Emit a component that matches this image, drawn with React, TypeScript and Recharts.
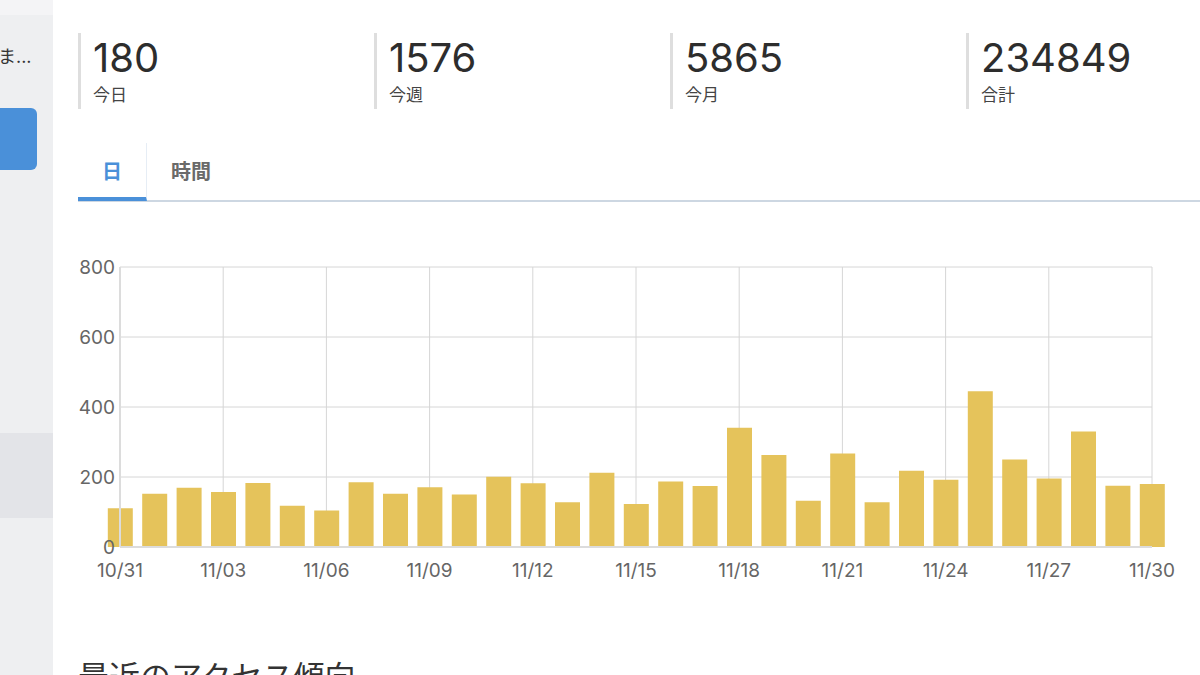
import { BarChart, Bar, XAxis, YAxis, CartesianGrid } from 'recharts';

const days = [
  '10/31', '11/01', '11/02', '11/03', '11/04', '11/05', '11/06', '11/07',
  '11/08', '11/09', '11/10', '11/11', '11/12', '11/13', '11/14', '11/15',
  '11/16', '11/17', '11/18', '11/19', '11/20', '11/21', '11/22', '11/23',
  '11/24', '11/25', '11/26', '11/27', '11/28', '11/29', '11/30',
];

const views = [
  111, 152, 169, 157, 183, 118, 104, 185,
  152, 171, 150, 201, 182, 128, 212, 123,
  187, 174, 341, 263, 132, 267, 128, 218,
  192, 445, 250, 196, 330, 175, 180,
];

const xTicks = [0, 3, 6, 9, 12, 15, 18, 21, 24, 27, 30];
const yTicks = [0, 200, 400, 600, 800];

const statValues = ['180', '1576', '5865', '234849'];
const statLabels = ['今日', '今週', '今月', '合計'];
const tabLabels = ['日', '時間'];

const latin = "Inter, 'Liberation Sans', Arial, sans-serif";
const cjk = "Inter, 'Noto Sans CJK JP', sans-serif";

export default function App() {
  const chartData = days.map((day, i) => ({ idx: i, day, views: views[i] }));

  return (
    <div
      style={{
        position: 'absolute',
        left: 0,
        top: 0,
        width: 1200,
        height: 675,
        overflow: 'hidden',
        background: '#fff',
        fontFamily: cjk,
      }}
    >
      {/* sidebar */}
      <div style={{ position: 'absolute', left: 0, top: 0, width: 53, height: 675, background: '#eeeff1' }} />
      <div style={{ position: 'absolute', left: 0, top: 0, width: 53, height: 15, background: '#f4f4f6' }} />
      <div
        style={{
          position: 'absolute',
          left: -2,
          top: 45,
          fontSize: 18,
          lineHeight: '24px',
          color: '#333',
          whiteSpace: 'nowrap',
        }}
      >
        ま...
      </div>
      <div
        style={{
          position: 'absolute',
          left: -10,
          top: 108,
          width: 47,
          height: 62,
          borderRadius: 6,
          background: '#4a90d9',
        }}
      />
      <div style={{ position: 'absolute', left: 0, top: 433, width: 53, height: 85, background: '#e3e4e8' }} />

      {/* stats */}
      {statValues.map((v, i) => (
        <div
          key={v}
          style={{
            position: 'absolute',
            left: 78 + i * 296,
            top: 33,
            height: 76,
            width: 280,
            borderLeft: '3px solid #dedede',
          }}
        >
          <div
            style={{
              position: 'absolute',
              left: 12,
              top: 5,
              fontSize: 40,
              lineHeight: '40px',
              color: '#2d2d2d',
              fontFamily: latin,
            }}
          >
            {v}
          </div>
          <div
            style={{
              position: 'absolute',
              left: 12,
              top: 54,
              fontSize: 17,
              lineHeight: '17px',
              color: '#444',
            }}
          >
            {statLabels[i]}
          </div>
        </div>
      ))}

      {/* tabs */}
      <div
        style={{
          position: 'absolute',
          left: 78,
          top: 200,
          width: 1122,
          height: 2,
          background: '#cdd7e2',
        }}
      />
      <div style={{ position: 'absolute', left: 78, top: 143, display: 'flex' }}>
        {tabLabels.map((t, i) => (
          <div
            key={t}
            style={{
              height: 54,
              padding: '0 24px',
              lineHeight: '59px',
              fontSize: 20,
              fontWeight: 'bold',
              color: i === 0 ? '#4a90d9' : '#6a6a6a',
              borderRight: i === 0 ? '1px solid #e6edf5' : 'none',
              borderBottom: i === 0 ? '4px solid #4a90d9' : '4px solid transparent',
            }}
          >
            {t}
          </div>
        ))}
      </div>

      {/* chart */}
      <div style={{ position: 'absolute', left: 60, top: 240 }}>
        <BarChart
          width={1140}
          height={360}
          data={chartData}
          margin={{ top: 27, right: 48, left: 0, bottom: 13 }}
        >
          <CartesianGrid stroke="#d6d6d6" strokeWidth={1} />
          <XAxis
            dataKey="idx"
            type="number"
            domain={[0, 30]}
            ticks={xTicks}
            interval={0}
            tickFormatter={(i: number) => days[i]}
            tickLine={false}
            tickSize={0}
            tickMargin={17}
            height={40}
            axisLine={{ stroke: '#dcdcdc', strokeWidth: 2 }}
            tick={{ fill: '#666', fontSize: 19, fontFamily: latin }}
          />
          <YAxis
            domain={[0, 800]}
            ticks={yTicks}
            interval={0}
            width={60}
            tickLine={false}
            tickSize={0}
            tickMargin={5}
            axisLine={{ stroke: '#dcdcdc', strokeWidth: 2 }}
            tick={{ fill: '#666', fontSize: 19, fontFamily: latin }}
          />
          <Bar dataKey="views" fill="#e5c35b" barSize={25} isAnimationActive={false} />
        </BarChart>
      </div>

      {/* next section heading */}
      <div
        style={{
          position: 'absolute',
          left: 78,
          top: 657,
          fontSize: 31,
          lineHeight: '40px',
          color: '#333',
          whiteSpace: 'nowrap',
        }}
      >
        最近のアクセス傾向
      </div>
    </div>
  );
}
